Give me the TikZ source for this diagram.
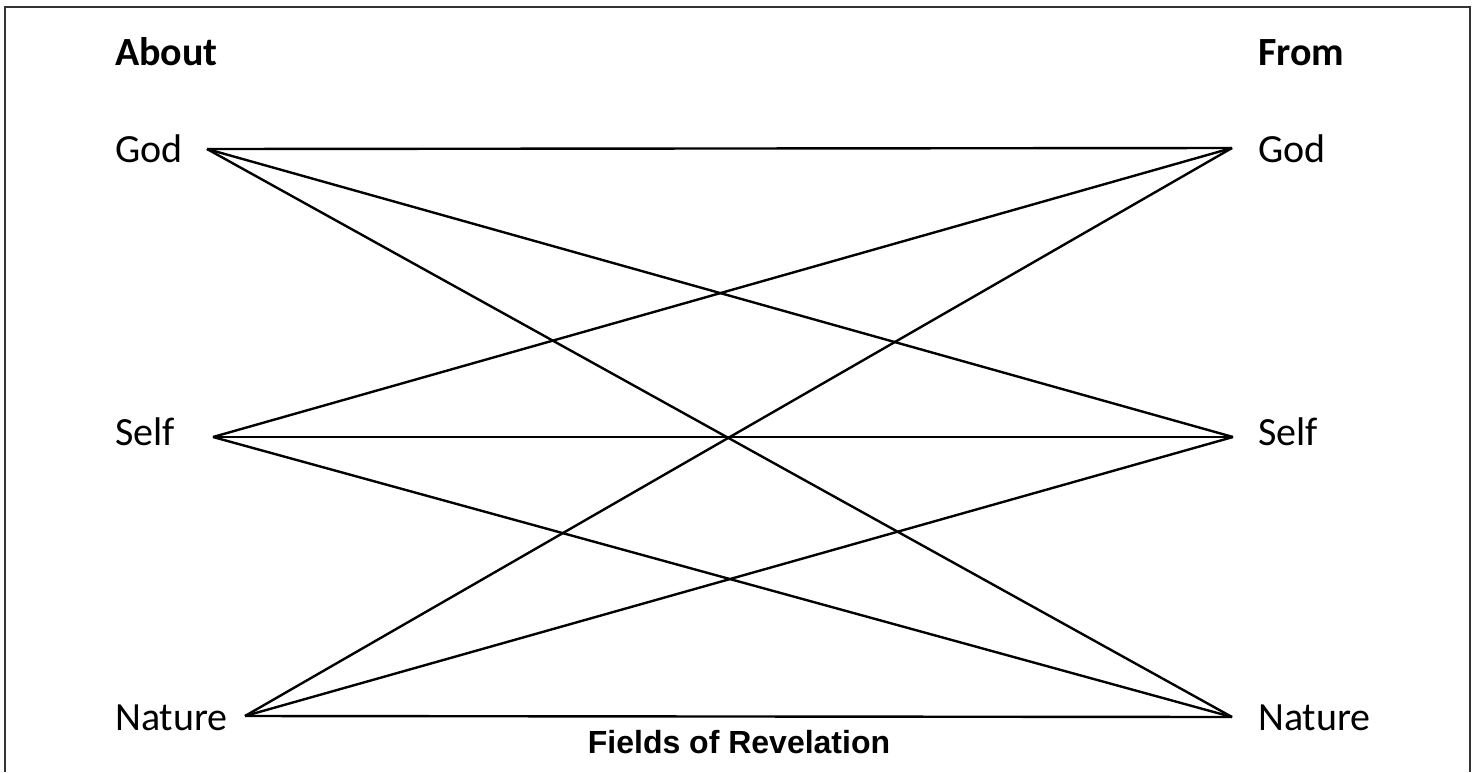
\documentclass[tikz,border=0pt]{standalone}
\usepackage{fontspec}
\setmainfont{Carlito}
\newfontfamily\titlefont{Liberation Sans}
\begin{document}
\begin{tikzpicture}[x=1pt,y=-1pt,
  lbl/.style={anchor=base west,inner sep=0pt,font=\fontsize{40}{48}\selectfont},
  hdr/.style={lbl,font=\fontsize{40}{48}\selectfont\bfseries},
  link/.style={line width=2.4pt,black},
  frame/.style={line width=2.8pt,black!80}]
\useasboundingbox (0,0) rectangle (1475,772);
\draw[frame] (5,772) -- (5,7) -- (1470,7) -- (1470,772);
% labels
\node[hdr] (about) at (115,65) {About};
\node[hdr] (from) at (1258,65) {From};
\node[lbl] (lgod) at (115,162) {God};
\node[lbl] (lself) at (115,445) {Self};
\node[lbl] (lnat) at (115,730) {Nature};
\node[lbl] (rgod) at (1258,162) {God};
\node[lbl] (rself) at (1258,445) {Self};
\node[lbl] (rnat) at (1258,730) {Nature};
\node[anchor=base,inner sep=0pt,font=\titlefont\fontsize{32}{38}\selectfont\bfseries] (title) at (739,753) {Fields of Revelation};
% end points
\coordinate (LG) at (207,149);
\coordinate (LS) at (213,437);
\coordinate (LN) at (245,716);
\coordinate (RG) at (1232,148);
\coordinate (RS) at (1233,437);
\coordinate (RN) at (1232,717);
\foreach \a in {LG,LS,LN}{
  \foreach \b in {RG,RS,RN}{
    \draw[link] (\a) -- (\b);
  }
}
\end{tikzpicture}
\end{document}
